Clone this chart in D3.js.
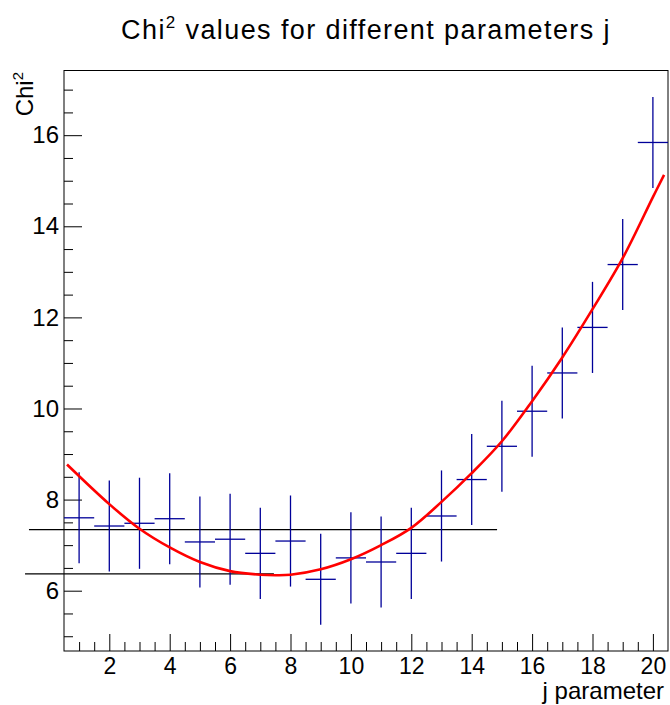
<!DOCTYPE html>
<html>
<head>
<meta charset="utf-8">
<script src="https://cdn.jsdelivr.net/npm/d3@7"></script>
<style>
  body { margin: 0; background: #fff; }
  svg { display: block; font-family: "Liberation Sans", Arial, Helvetica, sans-serif; }
  .axis text { font-size: 24px; fill: #000; }
  .x.axis text { font-size: 23px; }
  .axis line { stroke: #000; }
</style>
</head>
<body>
<div id="chart"></div>
<script>
// measured chi2 per j, with +-1 error bars
const jValues = [1, 2, 3, 4, 5, 6, 7, 8, 9, 10, 11, 12, 13, 14, 15, 16, 17, 18, 19, 20]
const chi2 = [7.6, 7.42, 7.48, 7.58, 7.07, 7.13, 6.82, 7.09, 6.25, 6.72,
              6.63, 6.82, 7.64, 8.44, 9.17, 9.94, 10.78, 11.78, 13.16, 15.84]
const chi2Err = [1, 1, 1, 1, 1, 1, 1, 1, 1, 1, 1, 1, 1, 1, 1, 1, 1, 1, 1, 1]

// fitted curve
const fitJ = [0.6, 2, 3, 4, 5, 6, 7, 7.5, 8, 9, 10, 11, 12, 13, 14, 15, 16, 17, 18, 19, 20, 20.37]
const fitChi2 = [8.77, 7.9, 7.36, 6.95, 6.63, 6.43, 6.35, 6.34, 6.35, 6.47, 6.69, 7.0,
                 7.38, 7.95, 8.58, 9.28, 10.16, 11.12, 12.18, 13.3, 14.64, 15.13]

// horizontal reference lines [from j, to j, chi2]
const refLines = [
  [-0.66, 14.84, 7.34],
  [-0.79, 7.45, 6.37]
]

const xTicks = [2, 4, 6, 8, 10, 12, 14, 16, 18, 20]
const yTicks = [6, 8, 10, 12, 14, 16]

const width = 670, height = 705
const margin = {top: 70.5, right: 2, bottom: 54, left: 64}

const svg = d3.select('#chart').append('svg')
  .attr('width', width).attr('height', height)

const x = d3.scaleLinear().domain([0.5, 20.5]).range([margin.left, width - margin.right])
const y = d3.scaleLinear().domain([4.676, 17.42]).range([height - margin.bottom, margin.top])

// frame
svg.append('rect')
  .attr('x', x(0.5)).attr('y', y(17.42))
  .attr('width', x(20.5) - x(0.5)).attr('height', y(4.676) - y(17.42))
  .attr('fill', 'none').attr('stroke', '#000').attr('stroke-width', 1)

// axes: ROOT style ticks pointing into the frame
const xMinor = d3.range(1, 20.5, 0.5).filter(v => v % 2 !== 0)
const yMinor = d3.range(5, 17.5, 0.5).filter(v => v % 2 !== 0)

svg.append('g').attr('class', 'x axis')
  .attr('transform', `translate(0,${y(4.676)})`)
  .call(d3.axisBottom(x).tickValues(xTicks).tickSize(-17).tickPadding(7).tickFormat(d3.format('d')))
  .call(g => g.select('.domain').remove())
  .call(g => g.selectAll('text').attr('dy', '0.71em'))

svg.append('g').attr('class', 'x axis minor')
  .attr('transform', `translate(0,${y(4.676)})`)
  .call(d3.axisBottom(x).tickValues(xMinor).tickSize(-9).tickFormat(''))
  .call(g => g.select('.domain').remove())

svg.append('g').attr('class', 'y axis')
  .attr('transform', `translate(${x(0.5)},0)`)
  .call(d3.axisLeft(y).tickValues(yTicks).tickSize(-18).tickPadding(5).tickFormat(d3.format('d')))
  .call(g => g.select('.domain').remove())

svg.append('g').attr('class', 'y axis minor')
  .attr('transform', `translate(${x(0.5)},0)`)
  .call(d3.axisLeft(y).tickValues(yMinor).tickSize(-9).tickFormat(''))
  .call(g => g.select('.domain').remove())

// reference lines
svg.append('g').selectAll('line')
  .data(refLines)
  .join('line')
  .attr('x1', d => x(d[0])).attr('x2', d => x(d[1]))
  .attr('y1', d => y(d[2])).attr('y2', d => y(d[2]))
  .attr('stroke', '#000').attr('stroke-width', 1.2)

// points with error bars
const pts = svg.append('g').attr('stroke', '#000099').attr('stroke-width', 1.3)
jValues.forEach((j, i) => {
  pts.append('line')
    .attr('x1', x(j - 0.5)).attr('x2', x(j + 0.5))
    .attr('y1', y(chi2[i])).attr('y2', y(chi2[i]))
  pts.append('line')
    .attr('x1', x(j)).attr('x2', x(j))
    .attr('y1', y(chi2[i] - chi2Err[i])).attr('y2', y(chi2[i] + chi2Err[i]))
})

// fit curve
const line = d3.line().x(d => x(d[0])).y(d => y(d[1])).curve(d3.curveCatmullRom)
svg.append('path')
  .datum(fitJ.map((j, i) => [j, fitChi2[i]]))
  .attr('d', line)
  .attr('fill', 'none').attr('stroke', '#ff0000').attr('stroke-width', 2.6)

// titles
const title = svg.append('text')
  .attr('x', 366).attr('y', 39)
  .attr('text-anchor', 'middle').attr('font-size', 27)
  .attr('letter-spacing', 1.4)
title.append('tspan').text('Chi')
title.append('tspan').attr('font-size', 17).attr('dy', -11).text('2')
title.append('tspan').attr('dy', 11).text(' values for different parameters j')

svg.append('text')
  .attr('x', x(20.5) - 4).attr('y', 699)
  .attr('text-anchor', 'end').attr('font-size', 24)
  .text('j parameter')

const yTitle = svg.append('text')
  .attr('transform', 'translate(33,72) rotate(-90)')
  .attr('text-anchor', 'end').attr('font-size', 24)
yTitle.append('tspan').text('Chi')
yTitle.append('tspan').attr('font-size', 15).attr('dy', -10).text('2')
</script>
</body>
</html>
